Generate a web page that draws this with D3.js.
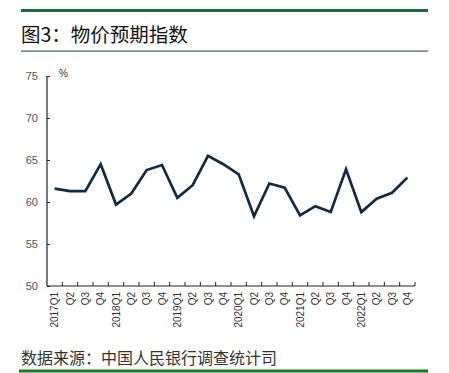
<!DOCTYPE html>
<html><head><meta charset="utf-8">
<script src="https://cdn.jsdelivr.net/npm/d3@7"></script>
<style>body{margin:0;background:#fff}svg{display:block}</style>
</head><body>
<svg id="c" width="449" height="373"></svg>
<script>
const categories = ["2017Q1","Q2","Q3","Q4","2018Q1","Q2","Q3","Q4","2019Q1","Q2","Q3","Q4","2020Q1","Q2","Q3","Q4","2021Q1","Q2","Q3","Q4","2022Q1","Q2","Q3","Q4"];
const values = [61.6,61.3,61.3,64.5,59.7,61.0,63.8,64.4,60.5,62.0,65.5,64.5,63.3,58.3,62.2,61.7,58.4,59.5,58.8,63.9,58.8,60.4,61.1,62.9];
const yTicks = [50,55,60,65,70,75];
const title = "图3：物价预期指数";
const source = "数据来源：中国人民银行调查统计司";
const unit = "%";

const svg = d3.select("#c");
// header lines
svg.append("rect").attr("x",21).attr("y",9).attr("width",407).attr("height",3).attr("fill","#1f6b3b");
svg.append("text").attr("x",21).attr("y",42).text(title)
  .attr("font-family","'Noto Sans CJK SC'").attr("font-size",19.5).attr("font-weight",400).attr("fill","#111");
svg.append("rect").attr("x",21).attr("y",50.5).attr("width",407).attr("height",1.2).attr("fill","#2e6b3e");

const x = d3.scaleBand().domain(d3.range(categories.length)).range([47,415]);
const y = d3.scaleLinear().domain([50,75]).range([286,76]);

// y axis
const ya = svg.append("g").attr("transform","translate(47,0)")
  .call(d3.axisLeft(y).tickValues(yTicks).tickSize(-3).tickPadding(9));
ya.select(".domain").attr("stroke","#222").attr("stroke-width",1.2).attr("d","M0,76V286");
ya.selectAll(".tick line").attr("stroke","#222");
ya.selectAll("text").attr("font-family","'Liberation Sans'").attr("font-size",11).attr("fill","#555");

// x axis
const xa = svg.append("g").attr("transform","translate(0,286)")
  .call(d3.axisBottom(x).tickFormat(i=>categories[i]).tickSize(0));
xa.select(".domain").attr("stroke","#222").attr("stroke-width",1.2).attr("d","M47,0H415");
xa.selectAll(".tick text")
  .attr("transform","rotate(-90)").attr("x",-6).attr("y",0).attr("dy","0.35em")
  .attr("text-anchor","end").attr("font-family","'Liberation Sans'").attr("font-size",10).attr("fill","#333");
// boundary ticks pointing up
const bounds = d3.range(1,categories.length+1).map(i=>x.range()[0]+i*x.step());
svg.append("g").selectAll("line").data(bounds).join("line")
  .attr("x1",d=>d).attr("x2",d=>d).attr("y1",286).attr("y2",282).attr("stroke","#222").attr("stroke-width",1);

svg.append("text").attr("x",59).attr("y",77).text(unit)
  .attr("font-family","'Liberation Sans'").attr("font-size",10).attr("fill","#333");

// line
const line = d3.line().x((d,i)=>x(i)+x.bandwidth()/2).y(d=>y(d));
svg.append("path").datum(values).attr("d",line).attr("fill","none")
  .attr("stroke","#0f2a45").attr("stroke-width",2.7).attr("stroke-linejoin","miter");

// footer
svg.append("text").attr("x",21).attr("y",364).text(source)
  .attr("font-family","'Noto Sans CJK SC'").attr("font-size",16).attr("fill","#333");
svg.append("rect").attr("x",19).attr("y",369.5).attr("width",409).attr("height",3).attr("fill","#1a7a22");
</script>
</body></html>
